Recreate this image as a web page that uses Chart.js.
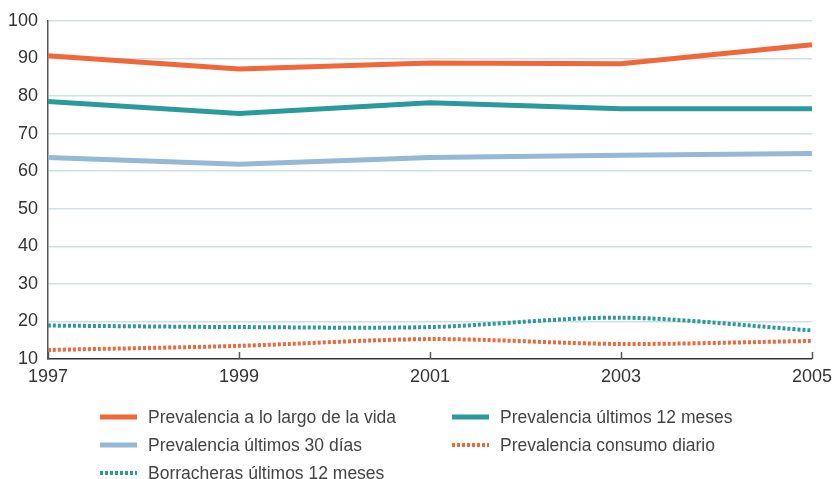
<!DOCTYPE html>
<html lang="es">
<head>
<meta charset="UTF-8">
<title>Prevalencia</title>
<script src="https://cdn.jsdelivr.net/npm/chart.js"></script>
<style>
  body { margin: 0; background: #fff; font-family: "Liberation Sans", Arial, sans-serif; overflow: hidden; }
  #wrap { position: relative; width: 839px; height: 479px; overflow: hidden; }
  #box { position: absolute; left: 0; top: 0; width: 839px; height: 390px; }
  #legend { position: absolute; left: 0; top: 0; width: 839px; height: 479px; pointer-events: none; }
  .item { position: absolute; display: flex; align-items: center; font-size: 17.5px; color: #444; white-space: nowrap; }
  .item canvas { margin-right: 11px; }
</style>
</head>
<body>
<div id="wrap">
  <div id="box"><canvas id="chart"></canvas></div>
  <div id="legend"></div>
</div>
<script>
const years = ["1997", "1999", "2001", "2003", "2005"];
const vida = [90.7, 87.2, 88.8, 88.6, 93.6];
const meses12 = [78.5, 75.3, 78.2, 76.6, 76.6];
const dias30 = [63.6, 61.8, 63.6, 64.2, 64.7];
const diario = [12.4, 13.5, 15.3, 14.0, 14.8];
const borracheras = [18.9, 18.5, 18.5, 21.0, 17.6];
const yTicks = [10, 20, 30, 40, 50, 60, 70, 80, 90, 100];

const orange = "#f0673a";
const teal = "#2b9a9d";
const lightBlue = "#95b8d6";

const series = [
  { label: "Prevalencia a lo largo de la vida", data: vida, color: orange, dotted: false, x: 100, y: 417 },
  { label: "Prevalencia últimos 12 meses", data: meses12, color: teal, dotted: false, x: 452, y: 417 },
  { label: "Prevalencia últimos 30 días", data: dias30, color: lightBlue, dotted: false, x: 100, y: 445 },
  { label: "Prevalencia consumo diario", data: diario, color: orange, dotted: true, x: 452, y: 445 },
  { label: "Borracheras últimos 12 meses", data: borracheras, color: teal, dotted: true, x: 100, y: 473 }
];

// short tick marks pointing up from the x axis
const innerTicks = {
  id: "innerTicks",
  afterDraw(chart) {
    const ctx = chart.ctx;
    const xs = chart.scales.x;
    const bottom = chart.chartArea.bottom;
    ctx.save();
    ctx.strokeStyle = "#555";
    ctx.lineWidth = 1.5;
    xs.ticks.forEach((t, i) => {
      const px = Math.round(xs.getPixelForTick(i)) + 0.5;
      ctx.beginPath();
      ctx.moveTo(px, bottom);
      ctx.lineTo(px, bottom - 7);
      ctx.stroke();
    });
    ctx.restore();
  }
};

new Chart(document.getElementById("chart"), {
  type: "line",
  data: {
    labels: years,
    datasets: series.map(s => ({
      label: s.label,
      data: s.data,
      borderColor: s.color,
      backgroundColor: s.color,
      borderWidth: s.dotted ? 4 : 5,
      borderDash: s.dotted ? [3, 2] : [],
      borderCapStyle: "butt",
      tension: s.dotted ? 0.3 : 0,
      pointRadius: 0,
      fill: false
    }))
  },
  options: {
    responsive: true,
    maintainAspectRatio: false,
    animation: false,
    layout: { padding: { top: 19, right: 22, bottom: 1, left: 0 } },
    plugins: { legend: { display: false }, tooltip: { enabled: false } },
    scales: {
      x: {
        offset: false,
        grid: { display: false, drawTicks: false },
        border: { display: true, color: "#333", width: 1.5 },
        ticks: { color: "#333", padding: 7, font: { family: "Liberation Sans", size: 18 } },
        afterFit(scale) { scale.height = 30; }
      },
      y: {
        min: 10,
        max: 100,
        afterBuildTicks(scale) { scale.ticks = yTicks.map(v => ({ value: v })); },
        grid: {
          drawTicks: false,
          color: ctx => ctx.tick && ctx.tick.value === 10 ? "rgba(0,0,0,0)" : "#cfe1e3",
          lineWidth: 1.5
        },
        border: { display: true, color: "#555", width: 1.5 },
        ticks: { color: "#333", padding: 10, font: { family: "Liberation Sans", size: 18 } },
        afterFit(scale) { scale.width = 48; }
      }
    }
  },
  plugins: [innerTicks]
});

// legend with line samples
const legend = document.getElementById("legend");
series.forEach(s => {
  const item = document.createElement("div");
  item.className = "item";
  item.style.left = s.x + "px";
  item.style.top = (s.y - 12) + "px";
  item.style.height = "24px";
  const c = document.createElement("canvas");
  c.width = 37; c.height = 8;
  const g = c.getContext("2d");
  g.strokeStyle = s.color;
  g.lineWidth = s.dotted ? 4 : 5;
  if (s.dotted) g.setLineDash([3, 2]);
  g.beginPath(); g.moveTo(0, 4); g.lineTo(37, 4); g.stroke();
  item.appendChild(c);
  const span = document.createElement("span");
  span.textContent = s.label;
  item.appendChild(span);
  legend.appendChild(item);
});
</script>
</body>
</html>
